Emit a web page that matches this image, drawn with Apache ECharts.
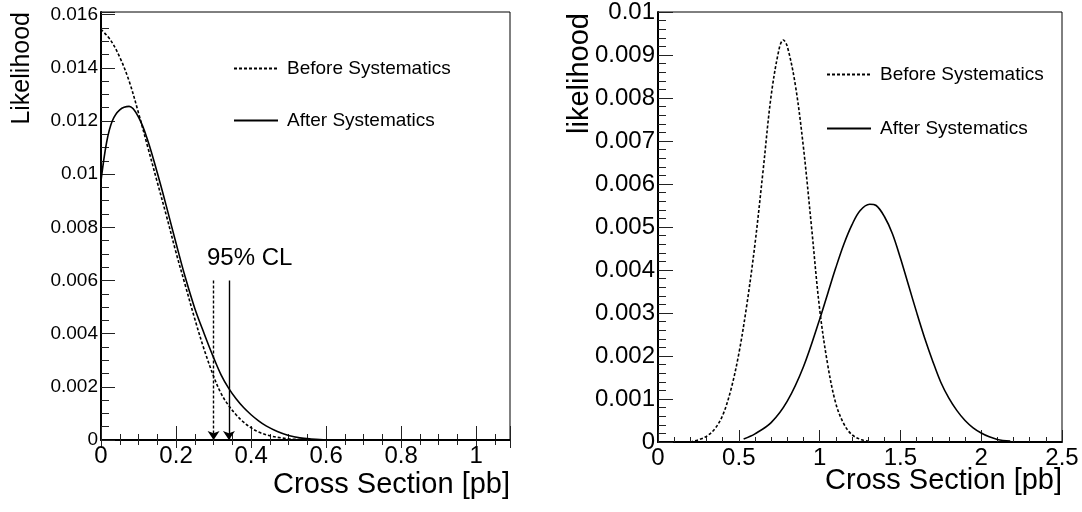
<!DOCTYPE html>
<html>
<head>
<meta charset="utf-8">
<script src="https://cdn.jsdelivr.net/npm/echarts@6/dist/echarts.min.js"></script>
<style>html,body{margin:0;padding:0;background:#fff}#c{width:1082px;height:512px}</style>
</head>
<body>
<div id="c"></div>
<script>
// ---------- data ----------
var seriesNames = ['Before Systematics', 'After Systematics'];

// left panel (Likelihood vs cross section)
var leftBeforeX = [0, 0.025, 0.05, 0.075, 0.1, 0.125, 0.15, 0.175, 0.2, 0.225, 0.25, 0.275, 0.3, 0.32, 0.34, 0.36, 0.38, 0.40, 0.42, 0.45, 0.48, 0.51, 0.55, 0.6, 0.7, 0.8, 0.9, 1.0, 1.09];
var leftBeforeY = [0.01545, 0.01505, 0.0144, 0.0135, 0.0123, 0.0110, 0.0097, 0.0084, 0.00705, 0.0058, 0.00455, 0.0034, 0.0024, 0.00175, 0.0013, 0.00095, 0.00067, 0.00046, 0.0003, 0.00016, 0.00008, 0.00003, 0.00001, 0, 0, 0, 0, 0, 0];
var leftAfterX = [0, 0.015, 0.03, 0.05, 0.075, 0.1, 0.125, 0.15, 0.175, 0.2, 0.225, 0.25, 0.275, 0.3, 0.32, 0.34, 0.36, 0.38, 0.40, 0.42, 0.44, 0.47, 0.5, 0.53, 0.56, 0.6, 0.7, 0.8, 0.9, 1.0, 1.09];
var leftAfterY = [0.00975, 0.0112, 0.0120, 0.01242, 0.01255, 0.01215, 0.01125, 0.01005, 0.00875, 0.0074, 0.0061, 0.00495, 0.00400, 0.0031, 0.00245, 0.00195, 0.00155, 0.00122, 0.00095, 0.00072, 0.00053, 0.00032, 0.00017, 0.00008, 0.00004, 0.00001, 0, 0, 0, 0, 0];
var clBefore = 0.30, clAfter = 0.341, clArrowTop = 0.006;
var clLabel = '95% CL';

// right panel
var rightBeforeX = [0.2, 0.29, 0.35, 0.4, 0.45, 0.5, 0.55, 0.6, 0.65, 0.7, 0.75, 0.775, 0.8, 0.85, 0.9, 0.95, 1.0, 1.05, 1.1, 1.15, 1.2, 1.26, 1.3];
var rightBeforeY = [0, 0.00011, 0.0003, 0.00062, 0.0012, 0.00205, 0.0032, 0.0046, 0.0063, 0.00805, 0.00915, 0.00935, 0.0092, 0.0083, 0.00685, 0.0050, 0.0031, 0.0018, 0.0009, 0.00042, 0.00017, 0.00005, 0.00002];
var rightAfterX = [0.53, 0.6, 0.7, 0.8, 0.9, 1.0, 1.05, 1.1, 1.15, 1.2, 1.25, 1.31, 1.35, 1.4, 1.45, 1.5, 1.55, 1.6, 1.65, 1.7, 1.75, 1.8, 1.85, 1.9, 1.95, 2.0, 2.05, 2.1, 2.18];
var rightAfterY = [0.00007, 0.00019, 0.00045, 0.00095, 0.00175, 0.00285, 0.00345, 0.00405, 0.0046, 0.00505, 0.00538, 0.00553, 0.0055, 0.00525, 0.00485, 0.00428, 0.00365, 0.00302, 0.00242, 0.00188, 0.00139, 0.00102, 0.00073, 0.0005, 0.00033, 0.00021, 0.00012, 0.00006, 0.00002];

// axis ranges / tick labels
var leftXRange = [0, 1.09], leftXStep = 0.2;
var leftYRange = [0, 0.0161], leftYStep = 0.002;
var rightXRange = [0, 2.5], rightXStep = 0.5;
var rightYRange = [0, 0.01], rightYStep = 0.001;
var xTitle = 'Cross Section [pb]';
var leftYTitle = 'Likelihood', rightYTitle = 'likelihood';

// ---------- build ----------
function zip(a, b) { return a.map(function (v, i) { return [v, b[i]]; }); }
var FONT = '"Liberation Sans", Arial, Helvetica, sans-serif';
var black = '#000';
function isMult(max, step) { return Math.abs(max / step - Math.round(max / step)) < 1e-6; }

function xAxis(grid, range, step, fs, majorLen, minorLen, split, nameGap) {
  return {
    type: 'value', gridIndex: grid, min: range[0], max: range[1], interval: step,
    axisLine: { show: true, onZero: false, lineStyle: { color: black, width: 2 } },
    axisTick: { show: true, inside: true, length: majorLen, lineStyle: { color: '#222', width: 1 } },
    minorTick: { show: true, splitNumber: split, length: minorLen, lineStyle: { color: '#222', width: 1 } },
    splitLine: { show: false },
    axisLabel: { show: true, color: black, fontSize: fs, fontFamily: FONT, margin: 4, showMaxLabel: isMult(range[1], step),
      formatter: function (v) { return String(+v.toFixed(4)); } },
    name: xTitle, nameLocation: 'end', nameGap: 0, nameMoveOverlap: false,
    nameTextStyle: { color: black, fontSize: 29, fontFamily: FONT, align: 'right', verticalAlign: 'top', padding: [nameGap, 0, 0, 0] }
  };
}
function yAxis(grid, range, step, fs, majorLen, minorLen, split) {
  return {
    type: 'value', gridIndex: grid, min: range[0], max: range[1], interval: step,
    axisLine: { show: true, onZero: false, lineStyle: { color: black, width: 2 } },
    axisTick: { show: true, inside: true, length: majorLen, lineStyle: { color: '#222', width: 1 } },
    minorTick: { show: true, splitNumber: split, length: minorLen, lineStyle: { color: '#222', width: 1 } },
    splitLine: { show: false },
    axisLabel: { show: true, color: black, fontSize: fs, fontFamily: FONT, margin: 3, showMaxLabel: isMult(range[1], step),
      formatter: function (v) { return String(+v.toFixed(5)); } }
  };
}
function topAxis(grid, range, step) {
  return {
    type: 'value', gridIndex: grid, position: 'top', min: range[0], max: range[1], interval: step,
    axisLine: { show: false },
    axisTick: { show: true, inside: true, length: 8, lineStyle: { color: '#222' } },
    minorTick: { show: true, splitNumber: 4, length: 5, lineStyle: { color: '#222' } },
    splitLine: { show: false }, axisLabel: { show: false }
  };
}
function lineSeries(name, xi, yi, xs, ys, dashed) {
  return {
    type: 'line', name: name, xAxisIndex: xi, yAxisIndex: yi, data: zip(xs, ys),
    smooth: 0.35, showSymbol: false, symbol: 'none', clip: true,
    lineStyle: { color: black, width: 1.6, type: dashed ? [3, 2] : 'solid' },
    itemStyle: { color: black }, emphasis: { disabled: true }
  };
}

var leftBefore = lineSeries(seriesNames[0], 0, 0, leftBeforeX, leftBeforeY, true);
leftBefore.markLine = {
  silent: true, animation: false, label: { show: false },
  symbol: ['none', 'arrow'], symbolSize: 9,
  data: [
    [{ coord: [clBefore, clArrowTop], lineStyle: { color: black, width: 1.4, type: [3, 2] } }, { coord: [clBefore, 0] }],
    [{ coord: [clAfter, clArrowTop], lineStyle: { color: black, width: 1.4, type: 'solid' } }, { coord: [clAfter, 0] }]
  ]
};

function legend(left, top, gap) {
  return { data: seriesNames, orient: 'vertical', left: left, top: top, padding: 0, itemWidth: 44, itemHeight: 20, itemGap: gap,
    itemStyle: { opacity: 0, borderWidth: 0 }, lineStyle: { inherit: true },
    textStyle: { color: black, fontSize: 19, fontFamily: FONT, padding: [0, 0, 0, 4] }, selectedMode: false };
}

var option = {
  animation: false,
  backgroundColor: '#fff',
  textStyle: { fontFamily: FONT },
  grid: [
    { left: 101, right: 572, top: 12, bottom: 72, show: true, borderColor: black, borderWidth: 1, backgroundColor: 'transparent', outerBoundsMode: 'none', containLabel: false },
    { left: 658, right: 20, top: 12, bottom: 70, show: true, borderColor: black, borderWidth: 1, backgroundColor: 'transparent', outerBoundsMode: 'none', containLabel: false }
  ],
  xAxis: [
    xAxis(0, leftXRange, leftXStep, 24, 14, 6, 4, 30),
    xAxis(1, rightXRange, rightXStep, 24, 12, 5, 5, 24),
    topAxis(0, leftXRange, leftXStep)
  ],
  yAxis: [
    yAxis(0, leftYRange, leftYStep, 19, 14, 8, 4),
    yAxis(1, rightYRange, rightYStep, 24, 15, 8, 5)
  ],
  legend: [legend(233, 59, 33), legend(826, 65, 35)],
  graphic: [
    { type: 'text', x: 22, y: 12, rotation: Math.PI / 2,
      style: { text: leftYTitle, font: '25px ' + FONT, fill: black, align: 'right', verticalAlign: 'middle' } },
    { type: 'text', x: 580, y: 13, rotation: Math.PI / 2,
      style: { text: rightYTitle, font: '29px ' + FONT, fill: black, align: 'right', verticalAlign: 'middle' } },
    { type: 'text', left: 207, top: 246,
      style: { text: clLabel, font: '24px ' + FONT, fill: black } }
  ],
  series: [
    leftBefore,
    lineSeries(seriesNames[1], 0, 0, leftAfterX, leftAfterY, false),
    lineSeries(seriesNames[0], 1, 1, rightBeforeX, rightBeforeY, true),
    lineSeries(seriesNames[1], 1, 1, rightAfterX, rightAfterY, false)
  ]
};
var chart = echarts.init(document.getElementById('c'), null, { renderer: 'canvas' });
chart.setOption(option);
</script>
</body>
</html>
